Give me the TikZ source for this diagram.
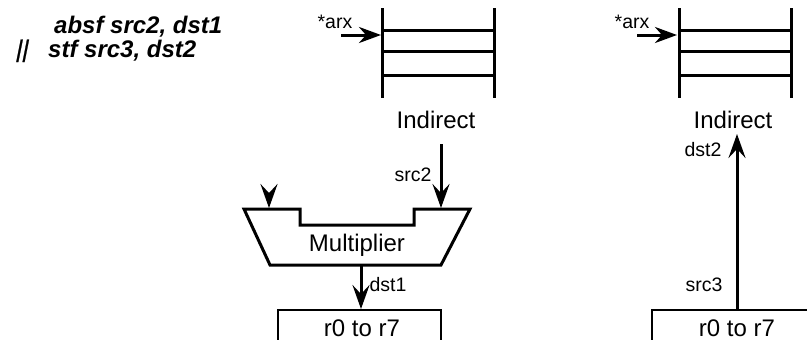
\documentclass[tikz,border=0pt]{standalone}
\usepackage{fontspec}
\setmainfont{Liberation Sans}
\newfontfamily\slantfont[FakeSlant=0.2,FakeBold=1]{Liberation Sans}
\usetikzlibrary{arrows.meta}
\begin{document}
\begin{tikzpicture}[x=1pt,y=-1pt,
	big/.style={font=\fontsize{24}{26}\selectfont,inner sep=0pt},
	small/.style={font=\fontsize{19.5}{22}\selectfont,inner sep=0pt},
	instr/.style={font=\fontsize{24}{26}\selectfont\bfseries\itshape,inner sep=0pt,anchor=base west},
	wire/.style={line width=3pt},
	flow/.style={line width=3pt,-{Stealth[length=24pt,width=17pt,inset=9pt]}},
	ptr/.style={line width=3pt,-{Stealth[length=22pt,width=16pt,inset=7pt]}}]
	\useasboundingbox (0,0) rectangle (807,340);
	\clip (0,0) rectangle (807,340);
	\node[instr] (absf) at (54,33) {absf src2, dst1};
	\node[instr] (stf) at (48,57) {stf src3, dst2};
	\node[inner sep=0pt,anchor=base west,font=\fontsize{24}{26}\slantfont] (par) at (15,57) {||};
	% left memory
	\coordinate (lt) at (382,8);
	\coordinate (lb) at (382,98);
	\coordinate (rt) at (494,8);
	\coordinate (rb) at (494,98);
	\draw[wire](lt)--(lb);
	\draw[wire](rt)--(rb);
	\foreach \y in {30,51,75}
		\draw[wire](382,\y)--(494,\y);
	\coordinate (arxa) at (341,35);
	\coordinate (arxb) at (381,35);
	\draw[ptr](arxa)--(arxb);
	\node[small] (arxl) at (335,22) {*arx};
	\node[big] (indl) at (436,120) {Indirect};
	% right memory
	\coordinate (mt) at (679,8);
	\coordinate (mb) at (679,98);
	\coordinate (nt) at (791,8);
	\coordinate (nb) at (791,98);
	\draw[wire](mt)--(mb);
	\draw[wire](nt)--(nb);
	\foreach \y in {30,51,75}
		\draw[wire](679,\y)--(791,\y);
	\coordinate (arxc) at (637,35);
	\coordinate (arxd) at (677,35);
	\draw[ptr](arxc)--(arxd);
	\node[small] (arxr) at (632,22) {*arx};
	\node[big] (indr) at (733,120) {Indirect};
	% multiplier
	\draw[wire,line join=miter] (244,209)--(300,209)--(300,225)--(414,225)--(414,209)--(470,209)--(441,265)--(270,265)--cycle;
	\node[big] (mul) at (357,245) {Multiplier};
	\coordinate (ina) at (269,197);
	\coordinate (inb) at (269,208);
	\coordinate (srca) at (441,144);
	\coordinate (srcb) at (441,208);
	\coordinate (outa) at (361,265);
	\coordinate (outb) at (361,309);
	\draw[flow](ina)--(inb);
	\draw[flow](srca)--(srcb);
	\draw[flow](outa)--(outb);
	\node[small] (src2) at (413,175) {src2};
	\node[small] (dst1) at (388,285) {dst1};
	% registers
	\draw[line width=2.5pt] (278,340)--(278,310)--(441,310)--(441,340);
	\node[big] (regl) at (362,328) {r0 to r7};
	\draw[line width=2.5pt] (652,340)--(652,310)--(807,310);
	\node[big] (regr) at (737,328) {r0 to r7};
	\coordinate (upa) at (737,310);
	\coordinate (upb) at (737,134);
	\draw[flow](upa)--(upb);
	\node[small] (dst2) at (703,150) {dst2};
	\node[small] (src3) at (704,285) {src3};
\end{tikzpicture}
\end{document}
